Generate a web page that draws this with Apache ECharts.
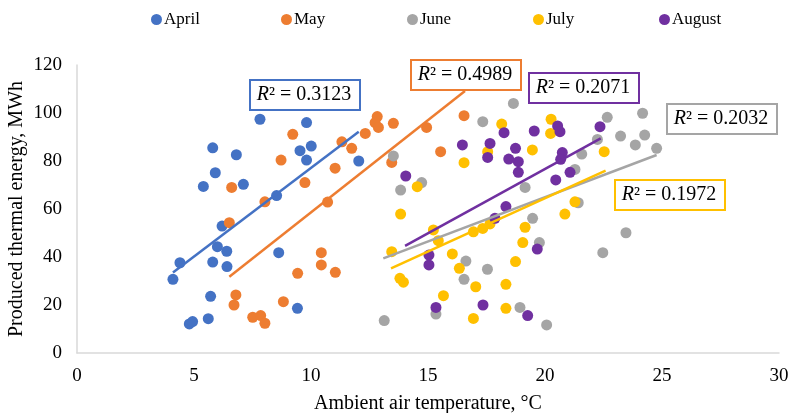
<!DOCTYPE html>
<html>
<head>
<meta charset="utf-8">
<script src="https://cdn.jsdelivr.net/npm/echarts@6/dist/echarts.min.js"></script>
<style>html,body{margin:0;padding:0;background:#fff}#c{width:791px;height:413px}</style>
</head>
<body>
<div id="c"></div>
<script>
const seriesNames = ['April', 'May', 'June', 'July', 'August'];
const colors = ['#4472C4', '#ED7D31', '#A5A5A5', '#FFC000', '#7030A0'];

const april = [[7.82,97.4],[9.81,96.0],[5.80,85.5],[6.81,82.6],[9.53,84.3],[10.01,86.2],[9.81,80.4],[12.04,80.0],[5.91,75.1],[5.40,69.4],[7.11,70.3],[8.53,65.6],[6.20,52.9],[6.00,44.3],[6.40,42.4],[4.40,37.6],[5.80,37.9],[6.41,36.0],[8.62,41.8],[4.10,30.7],[5.71,23.6],[9.42,18.6],[5.61,14.3],[4.80,12.1],[4.94,13.1]];
const may = [[12.83,98.5],[12.74,96.0],[12.88,94.0],[9.22,91.1],[12.32,91.5],[11.32,88.0],[11.74,85.3],[8.72,80.4],[11.03,77.0],[6.61,69.0],[9.74,71.0],[8.03,63.0],[6.51,54.3],[10.71,62.9],[10.44,41.8],[10.44,36.7],[11.04,33.6],[9.43,33.2],[6.79,24.2],[6.71,20.0],[8.82,21.4],[7.51,14.9],[7.85,15.6],[8.03,12.4],[13.52,95.7],[14.94,94.0],[16.54,98.9],[15.54,83.9],[13.45,79.4]];
const june = [[18.65,104.0],[17.34,96.4],[13.52,82.1],[14.73,71.0],[13.83,67.9],[19.15,69.0],[19.47,56.1],[19.76,46.0],[16.62,38.3],[17.54,34.9],[16.54,30.7],[18.93,19.0],[15.34,16.2],[13.13,13.5],[20.07,11.7],[21.28,76.5],[21.42,62.6],[21.57,82.9],[22.66,98.2],[22.24,89.0],[23.23,90.4],[24.17,99.9],[23.86,86.7],[24.26,90.8],[23.46,50.1],[22.47,41.8],[24.77,85.3]];
const july = [[18.15,95.4],[20.26,97.4],[20.24,91.5],[17.55,83.9],[19.46,84.6],[16.54,79.3],[22.53,83.9],[14.54,69.3],[13.83,57.9],[21.28,63.0],[20.85,57.9],[15.23,51.3],[15.44,46.8],[16.94,50.5],[17.34,51.9],[17.65,53.8],[19.15,52.4],[19.05,46.0],[13.45,42.2],[16.04,41.3],[16.34,35.3],[18.74,38.1],[13.80,31.1],[13.95,29.5],[17.04,27.6],[18.33,28.6],[15.66,23.9],[18.33,18.6],[16.94,14.4]];
const august = [[22.35,94.3],[20.54,94.6],[20.64,92.2],[19.54,92.5],[18.25,91.8],[17.65,87.3],[16.47,86.7],[18.74,85.3],[17.55,81.5],[18.45,80.8],[18.86,79.7],[18.86,75.3],[20.74,83.5],[20.67,80.7],[21.07,75.3],[20.46,72.1],[14.05,73.75],[18.33,61.0],[17.86,56.1],[15.04,40.8],[15.04,36.7],[19.67,43.3],[15.34,19.0],[17.35,20.0],[19.26,15.6]];

const aprilTrend = [[4.10,33.5],[12.04,92.2]];
const mayTrend = [[6.51,31.8],[16.58,109.2]];
const juneTrend = [[13.09,39.4],[24.77,82.5]];
const julyTrend = [[13.42,35.3],[22.59,76.0]];
const augustTrend = [[14.02,44.6],[22.38,89.4]];

const r2Values = ['0.3123', '0.4989', '0.2032', '0.1972', '0.2071'];

const xTicks = { min: 0, max: 30, interval: 5 };
const yTicks = { min: 0, max: 120, interval: 20 };

const FONT = '"Liberation Serif", "Times New Roman", serif';
const allData = [april, may, june, july, august];
const allTrends = [aprilTrend, mayTrend, juneTrend, julyTrend, augustTrend];

const chart = echarts.init(document.getElementById('c'), null, { renderer: 'canvas' });

const series = [];
seriesNames.forEach((n, i) => {
  series.push({
    name: n, type: 'scatter', data: allData[i], symbol: 'circle', symbolSize: 11,
    itemStyle: { color: colors[i], opacity: 1 }, z: 2 + i
  });
});
seriesNames.forEach((n, i) => {
  series.push({
    name: n + ' trend', type: 'line', data: allTrends[i], symbol: 'none',
    lineStyle: { color: colors[i], width: 2.5 }, z: 10, silent: true
  });
});

const legendLefts = [146, 276, 402, 528, 654];
const legends = seriesNames.map((n, i) => ({
  data: [{ name: n, icon: 'circle' }], left: legendLefts[i], top: 6,
  itemWidth: 11, itemHeight: 11, itemGap: 0,
  textStyle: { fontFamily: FONT, fontSize: 17, color: '#000', padding: [0, 0, 0, -3] }
}));

// R² boxes: [left, top, width, height] in pixels, colour index, r2 index
const boxes = [
  [249, 79, 110, 30, 0, 0],
  [410, 59, 110, 30, 1, 1],
  [528, 72, 110, 30, 4, 4],
  [666, 103, 110, 30, 2, 2],
  [614, 179, 110, 30, 3, 3]
];
const graphic = [];
boxes.forEach(b => {
  graphic.push({
    type: 'rect', left: b[0], top: b[1], z: 100,
    shape: { width: b[2], height: b[3] },
    style: { fill: '#fff', stroke: colors[b[4]], lineWidth: 2 }
  });
  graphic.push({
    type: 'text', x: b[0] + b[2] / 2, y: b[1] + b[3] / 2 + 1, z: 101,
    style: {
      text: '{i|R}{n|² = ' + r2Values[b[5]] + '}',
      align: 'center', verticalAlign: 'middle',
      rich: {
        i: { fontFamily: FONT, fontSize: 20, fontStyle: 'italic', fill: '#000' },
        n: { fontFamily: FONT, fontSize: 20, fill: '#000' }
      }
    }
  });
});

chart.setOption({
  animation: false,
  backgroundColor: '#fff',
  legend: legends,
  grid: { left: 77, right: 12, top: 65, bottom: 60, containLabel: false, outerBoundsMode: 'none' },
  xAxis: {
    type: 'value', min: xTicks.min, max: xTicks.max, interval: xTicks.interval,
    name: 'Ambient air temperature, °C', nameLocation: 'middle', nameGap: 41,
    nameMoveOverlap: false,
    nameTextStyle: { fontFamily: FONT, fontSize: 20, color: '#000' },
    axisLine: { show: true, lineStyle: { color: '#D9D9D9', width: 1.5 } },
    axisTick: { show: false }, splitLine: { show: false },
    axisLabel: { fontFamily: FONT, fontSize: 19, color: '#000', margin: 14 }
  },
  yAxis: {
    type: 'value', min: yTicks.min, max: yTicks.max, interval: yTicks.interval,
    name: 'Produced thermal energy, MWh', nameLocation: 'middle', nameGap: 50,
    nameMoveOverlap: false,
    nameTextStyle: { fontFamily: FONT, fontSize: 20, color: '#000' },
    axisLine: { show: true, lineStyle: { color: '#D9D9D9', width: 1.5 } },
    axisTick: { show: false }, splitLine: { show: false },
    axisLabel: { fontFamily: FONT, fontSize: 19, color: '#000', margin: 15 }
  },
  graphic: graphic,
  series: series
});
</script>
</body>
</html>
